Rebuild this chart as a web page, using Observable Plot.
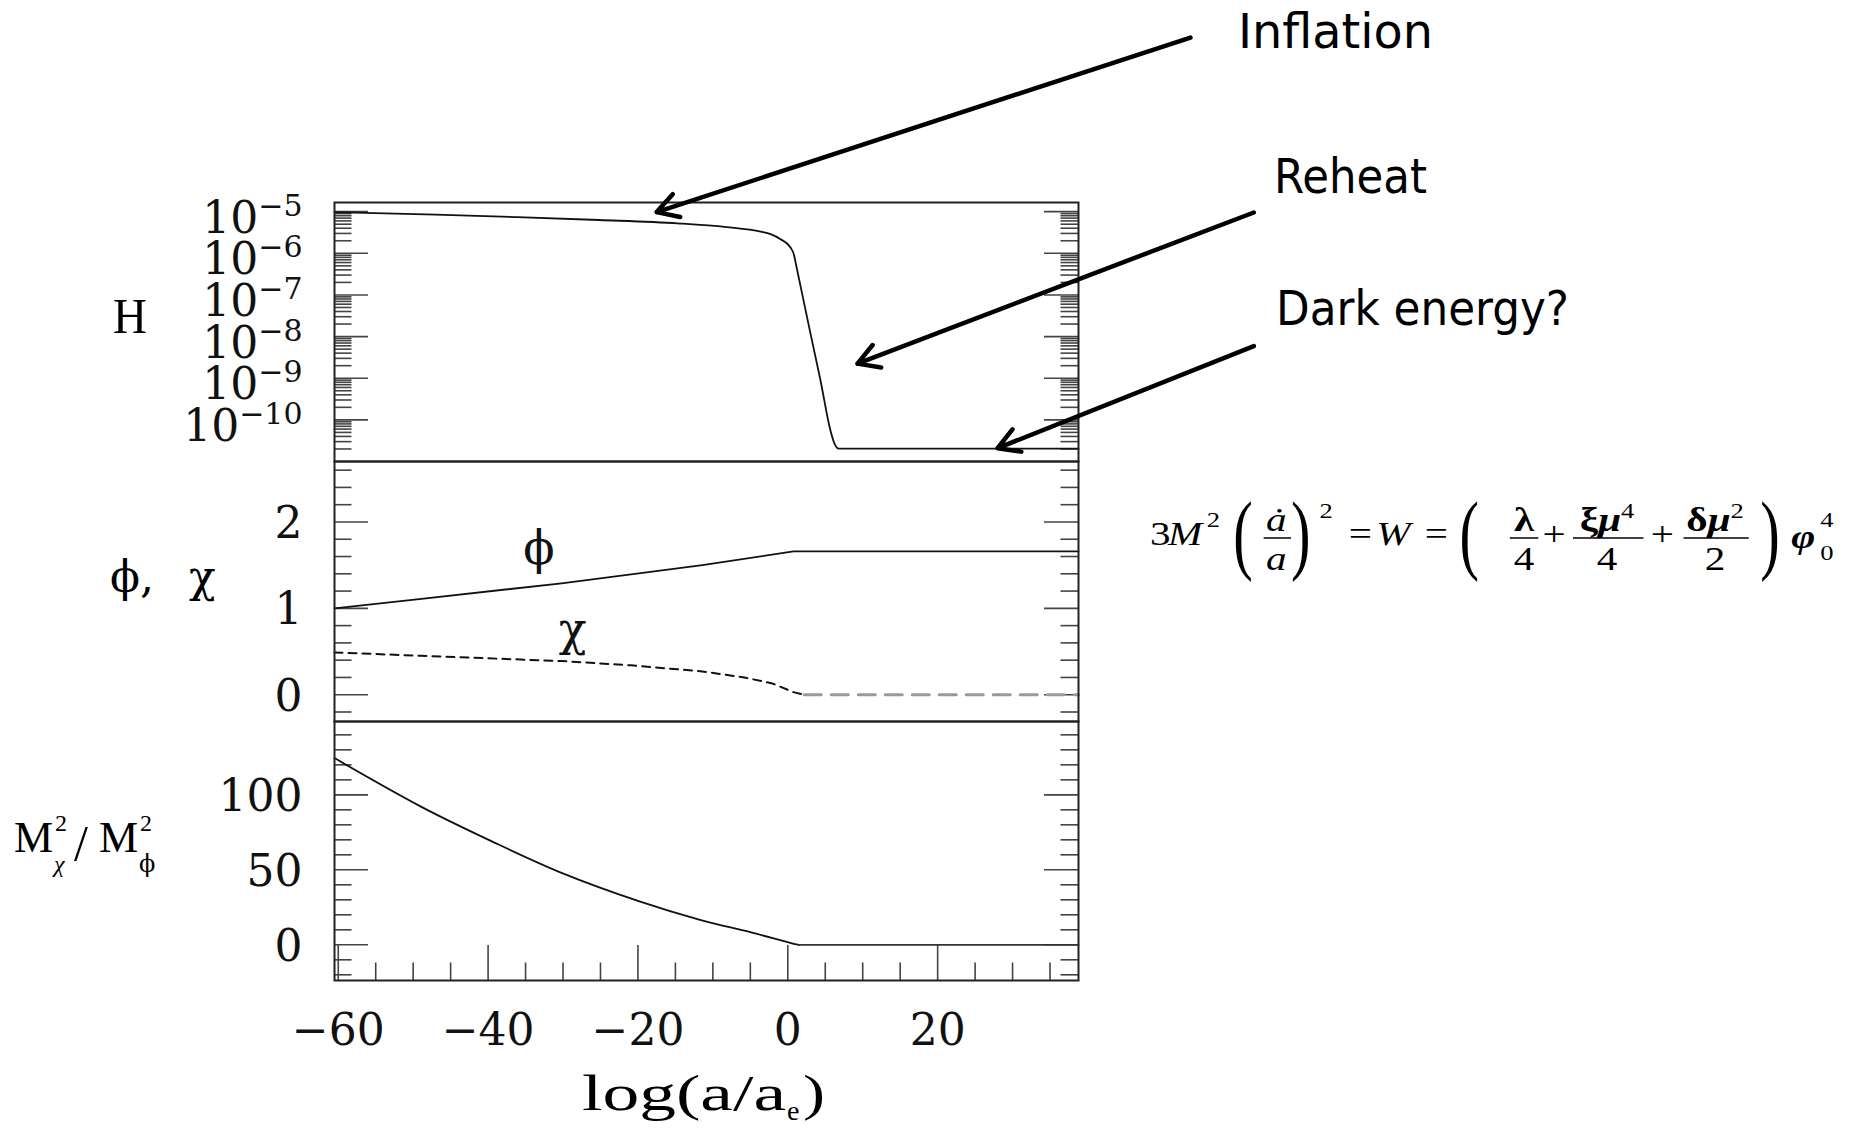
<!DOCTYPE html>
<html><head><meta charset="utf-8">
<script src="https://cdn.jsdelivr.net/npm/d3@7"></script>
<script src="https://cdn.jsdelivr.net/npm/@observablehq/plot@0.6"></script>
<style>
html,body{margin:0;padding:0;background:#fff;}
#root{position:relative;width:1850px;height:1131px;overflow:hidden;background:#fff;}
#root > svg{position:absolute;left:0;}
</style></head>
<body><div id="root"></div>
<script>
// ---------------- data ----------------
const xDomain = [-60.5, 38.8];
const xMajor = [-60, -40, -20, 0, 20];
const xMinor = [-55, -50, -45, -35, -30, -25, -15, -10, -5, 5, 10, 15, 25, 30, 35];

// Panel 1: H (log10 of H)
const hX   = [-60.5, -47.0, -36.5, -25.2, -14.7, -8.2, -3.6, -2.3, -0.97, 0.36, 0.8, 1.2, 3.03, 4.36, 5.7, 6.23, 6.8, 38.8];
const hLog = [-5.01, -5.07, -5.13, -5.20, -5.28, -5.37, -5.48, -5.54, -5.66, -5.86, -6.02, -6.36, -7.93, -9.05, -10.26, -10.57, -10.69, -10.69];
const hDecades = [-10, -9, -8, -7, -6, -5];
const hLogDomain = [-11, -4.78];

// Panel 2: phi and chi
const phiX = [-60.5, -48.9, -30.2, -11.4, 0.76, 38.8];
const phiV = [1.0, 1.11, 1.29, 1.50, 1.66, 1.66];
const chiX = [-60.5, -48.9, -30.2, -20.9, -11.4, -5.8, -2.05, 0.76, 2.2, 38.8];
const chiV = [0.49, 0.45, 0.39, 0.34, 0.27, 0.20, 0.13, 0.03, 0.0, 0.0];
const fieldMajor = [0, 1, 2];
const fieldMinor = [-0.2, 0.2, 0.4, 0.6, 0.8, 1.2, 1.4, 1.6, 1.8, 2.2, 2.4, 2.6];
const fieldDomain = [-0.31, 2.70];
const curveLabels = ["\u03D5", "\u03C7"];
const curveLabelX = [-33.2, -28.7];
const curveLabelY = [1.68, 0.745];

// Panel 3: M_chi^2 / M_phi^2
const rX = [-60.5, -48.9, -39.5, -30.2, -19.8, -11.6, -5.0, 0.8, 1.5, 38.8];
const rV = [124.5, 92, 69, 48, 29, 16.5, 8.4, 0.7, 0, 0];
const ratioMajor = [0, 50, 100];
const ratioMinor = [-20, -10, 10, 20, 30, 40, 60, 70, 80, 90, 110, 120, 130, 140];
const ratioDomain = [-23.8, 148.9];

// Annotation arrows (data coordinates of panel 1)
const arrowLabels   = ["Inflation", "Reheat", "Dark energy?"];
const arrowTailX    = [53.75, 62.2, 62.2];
const arrowTailLogH = [-0.82, -5.02, -8.23];
const arrowTipX     = [-17.5, 9.3, 28.0];
const arrowTipLogH  = [-5.01, -8.65, -10.68];

// ---------------- layout ----------------
const W = 1850, L = 334, R = 1078, FWID = R - L;
const tickStyle = {stroke: "#444", strokeWidth: 1.6};
const serif = "DejaVu Serif";
const root = document.getElementById("root");

function yTicks(major, minor) {
  return [
    Plot.tickY(minor, {y: d => d, insetRight: FWID - 17.5, ...tickStyle}),
    Plot.tickY(minor, {y: d => d, insetLeft: FWID - 17.5, ...tickStyle}),
    Plot.tickY(major, {y: d => d, insetRight: FWID - 34, ...tickStyle}),
    Plot.tickY(major, {y: d => d, insetLeft: FWID - 34, ...tickStyle})
  ];
}
const frame = () => Plot.frame({stroke: "#222", strokeWidth: 2});
const svgStyle = {background: "transparent", overflow: "visible"};

// ---- Panel 1 ----
const hData = hX.map((x, i) => ({x, y: 10 ** hLog[i]}));
const hMajor = hDecades.map(d => 10 ** d);
const hMinor = [];
for (let d = -11; d <= -5; d++) for (let k = 2; k <= 9; k++) {
  const v = k * 10 ** d; if (v < 10 ** hLogDomain[1]) hMinor.push(v);
}
const arrows = arrowLabels.map((l, i) => ({
  l, x1: arrowTailX[i], y1: 10 ** arrowTailLogH[i], x2: arrowTipX[i], y2: 10 ** arrowTipLogH[i]
}));
const p1 = Plot.plot({
  width: W, height: 463, marginTop: 202, marginBottom: 2, marginLeft: L, marginRight: W - R,
  style: svgStyle,
  x: {domain: xDomain, axis: null},
  y: {type: "log", domain: hLogDomain.map(d => 10 ** d), axis: null},
  marks: [
    ...yTicks(hMajor, hMinor),
    Plot.axisY(hMajor, {anchor: "left", tickSize: 0, tickPadding: 32, label: null,
      tickFormat: d => "10^" + Math.round(Math.log10(d)), fontSize: 44, fontFamily: serif, fill: "#111", dy: 7}),
    Plot.line(hData, {x: "x", y: "y", curve: "monotone-x", stroke: "#111", strokeWidth: 1.8}),
    frame(),
    Plot.arrow(arrows, {x1: "x1", y1: "y1", x2: "x2", y2: "y2", stroke: "#000", strokeWidth: 4.5, headLength: 8, headAngle: 60})
  ]
});
p1.style.top = "0px";
p1.querySelectorAll('[aria-label="y-axis tick label"] text').forEach(t => {
  const [b, e] = t.textContent.split("^");
  t.textContent = b;
  const ts = document.createElementNS("http://www.w3.org/2000/svg", "tspan");
  ts.setAttribute("dy", "-17");
  ts.setAttribute("font-size", "30");
  ts.textContent = e.replace("-", "\u2212");
  t.appendChild(ts);
});
root.appendChild(p1);

// ---- Panel 2 ----
const phiData = phiX.map((x, i) => ({x, v: phiV[i]}));
const chiData = chiX.map((x, i) => ({x, v: chiV[i]}));
const p2 = Plot.plot({
  width: W, height: 264, marginTop: 2, marginBottom: 2, marginLeft: L, marginRight: W - R,
  style: svgStyle,
  x: {domain: xDomain, axis: null},
  y: {domain: fieldDomain, axis: null},
  marks: [
    ...yTicks(fieldMajor, fieldMinor),
    Plot.axisY(fieldMajor, {anchor: "left", tickSize: 0, tickPadding: 32, label: null, tickFormat: d => String(d),
      fontSize: 44, fontFamily: serif, fill: "#111", dy: 2}),
    Plot.line(phiData, {x: "x", y: "v", stroke: "#111", strokeWidth: 1.8}),
    Plot.line(chiData.filter(d => d.x <= 2.2), {x: "x", y: "v", stroke: "#111", strokeWidth: 2, strokeDasharray: "8,6"}),
    Plot.line(chiData.filter(d => d.x >= 2.2), {x: "x", y: "v", stroke: "#999", strokeWidth: 3, strokeDasharray: "17,10"}),
    Plot.text(curveLabels, {x: (d, i) => curveLabelX[i], y: (d, i) => curveLabelY[i], text: d => d, fontSize: 46, fontFamily: serif, fill: "#111"}),
    frame()
  ]
});
p2.style.top = "459px";
root.appendChild(p2);

// ---- Panel 3 ----
const rData = rX.map((x, i) => ({x, v: rV[i]}));
const p3 = Plot.plot({
  width: W, height: 412, marginTop: 2, marginBottom: 151, marginLeft: L, marginRight: W - R,
  style: svgStyle,
  x: {domain: xDomain, axis: null},
  y: {domain: ratioDomain, axis: null},
  marks: [
    ...yTicks(ratioMajor, ratioMinor),
    Plot.tickX(xMinor, {x: d => d, insetTop: 259 - 17.5, ...tickStyle}),
    Plot.tickX(xMajor, {x: d => d, insetTop: 259 - 35, ...tickStyle}),
    Plot.axisY(ratioMajor, {anchor: "left", tickSize: 0, tickPadding: 32, label: null, fontSize: 44, fontFamily: serif, fill: "#111", dy: 2}),
    Plot.axisX(xMajor, {anchor: "bottom", tickSize: 0, tickPadding: 33, label: null, fontSize: 44, fontFamily: serif, fill: "#111"}),
    Plot.line(rData.filter(d => d.x <= 1.5), {x: "x", y: "v", curve: "catmull-rom", stroke: "#111", strokeWidth: 1.8}),
    Plot.line(rData.filter(d => d.x >= 1.5), {x: "x", y: "v", stroke: "#333", strokeWidth: 1.8}),
    frame()
  ]
});
p3.style.top = "719px";
root.appendChild(p3);

// ---------------- text overlay (labels, annotations, formula) ----------------
const ov = d3.select(root).append("svg").attr("width", W).attr("height", 1131)
  .style("top", "0px").style("pointer-events", "none");

function txt(g, s, x, y, size, family, extra = {}) {
  const e = g.append("text").attr("x", x).attr("y", y).attr("font-size", size)
    .attr("font-family", family).attr("fill", "#000").text(s);
  for (const k in extra) e.attr(k, extra[k]);
  return e;
}

// annotation labels
const annY = [48, 193, 325], annX = [1238, 1274, 1276], annW = [195, 153, 293];
arrowLabels.forEach((s, i) => txt(ov, s, annX[i], annY[i], 48, "DejaVu Sans",
  {textLength: annW[i], lengthAdjust: "spacingAndGlyphs"}));

// y axis labels
txt(ov, "H", 113, 333, 50, "Liberation Serif", {textLength: 34, lengthAdjust: "spacingAndGlyphs"});
txt(ov, "\u03D5,", 110, 592, 44, serif);
txt(ov, "\u03C7", 189, 592, 44, serif);
// M_chi^2 / M_phi^2
const LS = "Liberation Serif";
txt(ov, "M", 14, 852, 44, LS);
txt(ov, "2", 55, 831, 24, LS);
txt(ov, "\u03C7", 54, 872, 24, LS, {"font-style": "italic"});
txt(ov, "/", 74, 860, 50, LS);
txt(ov, "M", 99, 852, 44, LS);
txt(ov, "2", 140, 831, 24, LS);
txt(ov, "\u03D5", 139, 872, 24, serif);
// x axis label log(a/a_e)
txt(ov, "log(a/a", 582, 1110, 50, LS, {textLength: 204, lengthAdjust: "spacingAndGlyphs"});
txt(ov, "e", 787, 1120, 28, LS);
txt(ov, ")", 803, 1110, 50, LS, {textLength: 22, lengthAdjust: "spacingAndGlyphs"});

// formula 3M^2 (a'/a)^2 = W = (lambda/4 + xi mu^4/4 + delta mu^2/2) phi_0^4
const F = ov.append("g").attr("transform", "translate(1150,0) scale(1.21,1)");
const FS = 34, BASE = 545, NUM = 531, DEN = 570, BAR = 538;
txt(F, "3", 0, BASE, FS, LS);
txt(F, "M", 14.8, BASE, FS, LS, {"font-style": "italic"});
txt(F, "2", 47, 527, 22, LS);
function paren(x, s) {
  F.append("text").attr("transform", `translate(${x},562.5) scale(0.55,1)`)
    .attr("font-size", 88).attr("font-family", LS).attr("fill", "#000").text(s);
}
function frac(cx, x0, x1, num, den, denStyle = {}) {
  const n = txt(F, "", cx, NUM, FS, LS, {"text-anchor": "middle"});
  num.forEach(([s, st]) => { const t = n.append("tspan").text(s); for (const k in st) t.attr(k, st[k]); });
  txt(F, den, cx, DEN, FS, LS, {"text-anchor": "middle", ...denStyle});
  F.append("line").attr("x1", x0).attr("x2", x1).attr("y1", BAR).attr("y2", BAR)
    .attr("stroke", "#000").attr("stroke-width", 1.5);
}
paren(68.7, "(");
frac(104.3, 93.9, 116.5, [["\u0227", {"font-style": "italic"}]], "a", {"font-style": "italic"});
paren(116.5, ")");
txt(F, "2", 140, 518, 22, LS);
txt(F, "=", 164.3, BASE, FS, LS);
txt(F, "W", 187, BASE, FS, LS, {"font-style": "italic"});
txt(F, "=", 227, BASE, FS, LS);
paren(255.7, "(");
frac(309.1, 297.4, 320.9, [["\u03BB", {"font-weight": "bold"}]], "4");
txt(F, "+", 333.9, BASE, FS, LS, {"text-anchor": "middle"});
frac(377.8, 349.6, 407.8, [["\u03BE", {"font-weight": "bold"}], ["\u03BC", {"font-weight": "bold", "font-style": "italic"}], ["4", {dy: -13, "font-size": 22}]], "4");
txt(F, "+", 423.5, BASE, FS, LS, {"text-anchor": "middle"});
frac(467, 440.9, 494.8, [["\u03B4", {"font-weight": "bold"}], ["\u03BC", {"font-weight": "bold", "font-style": "italic"}], ["2", {dy: -13, "font-size": 22}]], "2");
paren(504.3, ")");
txt(F, "\u03C6", 530, 548, FS, LS, {"font-weight": "bold", "font-style": "italic"});
txt(F, "0", 554, 560, 22, LS);
txt(F, "4", 554, 527, 22, LS);
</script>
</body></html>
